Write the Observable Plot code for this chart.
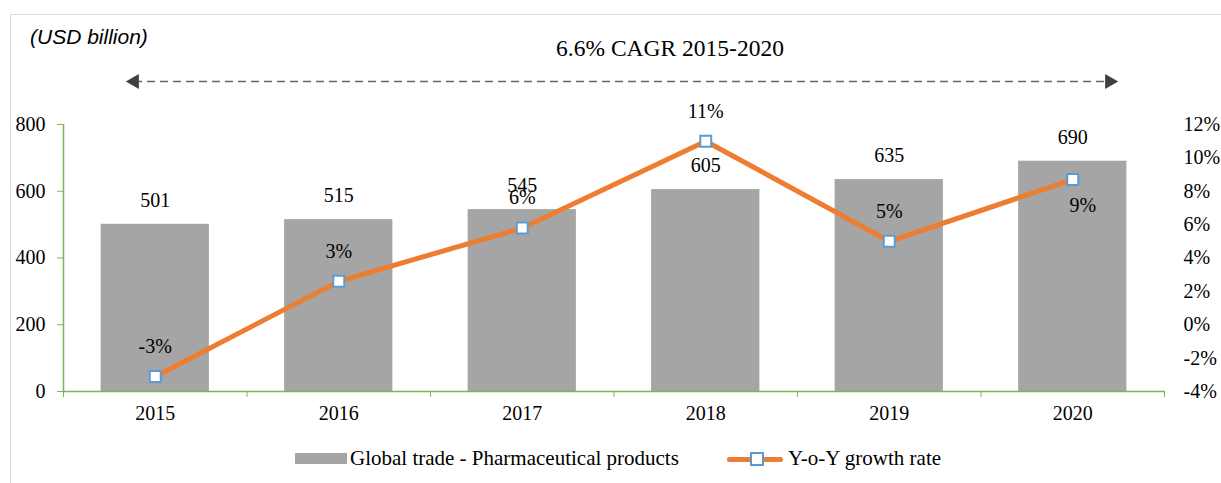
<!DOCTYPE html>
<html>
<head>
<meta charset="utf-8">
<script src="https://cdn.jsdelivr.net/npm/d3@7"></script>
<script src="https://cdn.jsdelivr.net/npm/@observablehq/plot@0.6"></script>
<style>
  html, body { margin: 0; padding: 0; background: #fff; }
  #wrap { position: relative; width: 1221px; height: 483px; overflow: hidden; font-family: "Liberation Serif", serif; }
  #frame { position: absolute; left: 10px; top: 14px; width: 1300px; height: 600px; border: 1.5px solid #d9d9d9; }
  #unit { position: absolute; left: 30px; top: 25px; font-family: "Liberation Sans", Arial, sans-serif; font-style: italic; font-size: 21px; color: #000; }
  #cagr { position: absolute; left: 670px; top: 35px; transform: translateX(-50%); font-size: 23.5px; color: #000; white-space: nowrap; }
  #legend { position: absolute; top: 446px; left: 295px; font-size: 21px; color: #000; display: flex; align-items: center; white-space: nowrap; }
  .sw-bar { display: inline-block; width: 52px; height: 11px; background: #A5A5A5; margin-right: 3px; }
  .sw-line { position: relative; display: inline-block; width: 56px; height: 14px; margin-left: 48px; margin-right: 5px; }
  .sw-line .ln { position: absolute; left: 0; right: 0; top: 5px; height: 5px; border-radius: 3px; background: #ED7D31; }
  .sw-line .sq { position: absolute; left: 23px; top: 0; width: 10px; height: 10px; border: 2px solid #5B9BD5; background: #fff; }
  svg { position: absolute; left: 0; top: 0; }
</style>
</head>
<body>
<div id="wrap">
  <div id="frame"></div>
  <div id="unit">(USD billion)</div>
  <div id="cagr">6.6% CAGR 2015-2020</div>
  <div id="legend">
    <span class="sw-bar"></span><span>Global trade - Pharmaceutical products</span>
    <span class="sw-line"><span class="ln"></span><span class="sq"></span></span><span>Y-o-Y growth rate</span>
  </div>
</div>
<script>
// ---- data ----
const years = ["2015", "2016", "2017", "2018", "2019", "2020"];
const tradeValues = [501, 515, 545, 605, 635, 690];
const growthRates = [-3.1, 2.6, 5.8, 11.0, 5.0, 8.7];
const growthLabels = ["-3%", "3%", "6%", "11%", "5%", "9%"];
const leftTicks = [0, 200, 400, 600, 800];
const rightTicks = [-4, -2, 0, 2, 4, 6, 8, 10, 12];

// ---- scales mapping: right axis (%) onto left axis units ----
const pctMin = -4, pctMax = 12, valMax = 800;
const pctToY = p => (p - pctMin) / (pctMax - pctMin) * valMax;

const data = years.map((yr, i) => ({
  i, year: yr, value: tradeValues[i], growth: growthRates[i],
  gy: pctToY(growthRates[i]), glabel: growthLabels[i]
}));

const green = "#7DB55A";
const barHalf = 0.295;
const boundaries = d3.range(-0.5, years.length, 1);

const arrowLeft = 0 - 0.113, arrowRight = years.length - 1 + 0.2;

const chart = Plot.plot({
  width: 1221,
  height: 483,
  marginLeft: 63,
  marginRight: 57,
  marginTop: 124,
  marginBottom: 92,
  style: { fontFamily: "Liberation Serif, serif", fontSize: "20px", color: "#000", background: "transparent" },
  x: { domain: [-0.5, years.length - 0.5] },
  y: { domain: [0, valMax] },
  marks: [
    Plot.rectY(data, { x1: d => d.i - barHalf, x2: d => d.i + barHalf, y: "value", fill: "#A5A5A5" }),
    // axes
    Plot.ruleX([-0.5], { y1: 0, y2: valMax, stroke: green, strokeWidth: 1.5 }),
    Plot.ruleY([0], { stroke: green, strokeWidth: 1.5 }),
    Plot.axisY({ ticks: leftTicks, tickSize: 6, tickPadding: 12, stroke: green, fill: "#000", label: null, fontSize: 20 }),
    Plot.axisY({ anchor: "right", ticks: rightTicks.map(pctToY), tickSize: 0, tickPadding: 19, textAnchor: "start",
      tickFormat: y => `${Math.round(y / valMax * (pctMax - pctMin) + pctMin)}%`, label: null, fontSize: 20 }),
    Plot.axisX({ ticks: boundaries, tickSize: 6, stroke: green, tickFormat: () => "", label: null }),
    Plot.axisX({ ticks: d3.range(years.length), tickSize: 0, tickPadding: 14, tickFormat: i => years[i], label: null, fontSize: 20 }),
    // bar value labels
    Plot.text(data, { x: "i", y: "value", text: d => String(d.value), dy: -24, fontSize: 20 }),
    // growth line
    Plot.line(data, { x: "i", y: "gy", stroke: "#ED7D31", strokeWidth: 5 }),
    Plot.dot(data, { x: "i", y: "gy", symbol: "square", r: 6.2, fill: "#fff", stroke: "#5B9BD5", strokeWidth: 2 }),
    Plot.text(data.slice(0, -1), { x: "i", y: "gy", text: "glabel", dy: -30, fontSize: 20 }),
    Plot.text(data.slice(-1), { x: "i", y: "gy", text: "glabel", dy: 26, dx: 10, fontSize: 20 }),
    // CAGR arrow
    Plot.ruleY([valMax], { x1: arrowLeft, x2: arrowRight, dy: -43, stroke: "#666", strokeWidth: 1.5, strokeDasharray: "8,5" }),
    Plot.dot([arrowLeft, arrowRight], { x: d => d, y: valMax, dy: -43, symbol: "triangle",
      rotate: d => d < 1 ? -90 : 90, r: 5.6, fill: "#404040", stroke: "none" })
  ]
});
document.getElementById("wrap").appendChild(chart);
</script>
</body>
</html>
